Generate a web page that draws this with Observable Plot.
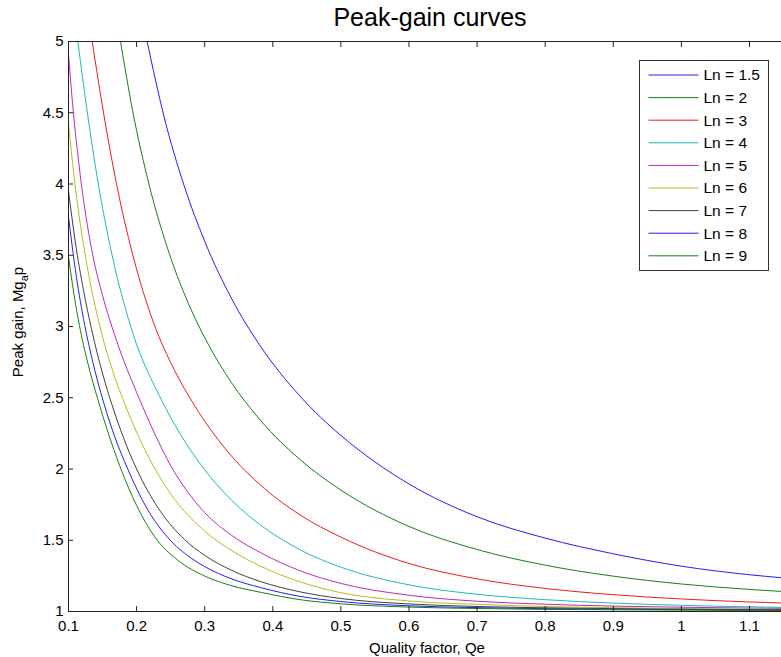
<!DOCTYPE html>
<html>
<head>
<meta charset="utf-8">
<script src="https://cdn.jsdelivr.net/npm/d3@7"></script>
<script src="https://cdn.jsdelivr.net/npm/@observablehq/plot@0.6"></script>
<style>
  html, body { margin: 0; padding: 0; background: #fff; }
  svg { display: block; }
</style>
</head>
<body>
<div id="chart"></div>
<script>
// ---- data ----
const titleText = "Peak-gain curves";
const xLabelText = "Quality factor, Qe";
const lnValues = [1.5, 2, 3, 4, 5, 6, 7, 8, 9];
const seriesColors = ["#2020f0", "#138013", "#f01c1c", "#1cbaba", "#ba2aba", "#baba1c", "#404040", "#2020f0", "#138013"];
const xTicks = [0.1, 0.2, 0.3, 0.4, 0.5, 0.6, 0.7, 0.8, 0.9, 1.0, 1.1];
const xTickLabels = ["0.1", "0.2", "0.3", "0.4", "0.5", "0.6", "0.7", "0.8", "0.9", "1", "1.1"];
const yTicks = [1, 1.5, 2, 2.5, 3, 3.5, 4, 4.5, 5];
const yTickLabels = ["1", "1.5", "2", "2.5", "3", "3.5", "4", "4.5", "5"];

const qLn1_5 = [0.2155, 0.24, 0.27, 0.30, 0.34, 0.38, 0.44, 0.5, 0.55, 0.6, 0.7, 0.8, 0.9, 1.0, 1.1, 1.147];
const gLn1_5 = [5.0, 4.478, 3.985, 3.598, 3.191, 2.875, 2.511, 2.235, 2.05, 1.895, 1.665, 1.515, 1.405, 1.318, 1.258, 1.237];

const qLn2 = [0.1764, 0.194, 0.219, 0.248, 0.28, 0.306, 0.339, 0.382, 0.44, 0.5, 0.6, 0.7, 0.8, 0.9, 1.0, 1.1, 1.147];
const gLn2 = [5.0, 4.518, 3.983, 3.512, 3.119, 2.868, 2.608, 2.341, 2.066, 1.852, 1.597, 1.435, 1.325, 1.248, 1.193, 1.155, 1.141];

const qLn3 = [0.1348, 0.152, 0.17, 0.194, 0.225, 0.255, 0.285, 0.3305, 0.388, 0.44, 0.5, 0.6, 0.7, 0.8, 0.9, 1.0, 1.1, 1.147];
const gLn3 = [5.0, 4.484, 4.012, 3.51, 3.025, 2.699, 2.446, 2.141, 1.862, 1.678, 1.522, 1.337, 1.229, 1.162, 1.118, 1.088, 1.067, 1.06];

const qLn4 = [0.1137, 0.128, 0.143, 0.163, 0.194, 0.236, 0.265, 0.295, 0.34, 0.388, 0.44, 0.5, 0.6, 0.7, 0.8, 0.9, 1.0, 1.1, 1.147];
const gLn4 = [5.0, 4.49, 4.022, 3.523, 2.96, 2.49, 2.238, 2.026, 1.778, 1.586, 1.433, 1.311, 1.187, 1.121, 1.083, 1.059, 1.043, 1.033, 1.029];

const qLn5 = [0.1, 0.106, 0.117, 0.134, 0.15, 0.17, 0.204, 0.225, 0.251, 0.28, 0.3, 0.34, 0.382, 0.44, 0.5, 0.6, 0.7, 0.8, 0.9, 1.0, 1.1, 1.147];
const gLn5 = [4.91, 4.563, 4.072, 3.54, 3.218, 2.909, 2.493, 2.264, 2.016, 1.807, 1.694, 1.533, 1.413, 1.286, 1.197, 1.114, 1.072, 1.051, 1.038, 1.03, 1.024, 1.022];

const qLn6 = [0.1, 0.11, 0.125, 0.148, 0.165, 0.182, 0.2, 0.224, 0.26, 0.3, 0.34, 0.382, 0.44, 0.5, 0.6, 0.7, 0.8, 0.9, 1.0, 1.1, 1.147];
const gLn6 = [4.42, 3.979, 3.49, 2.965, 2.687, 2.464, 2.259, 2.027, 1.762, 1.564, 1.426, 1.318, 1.208, 1.132, 1.074, 1.05, 1.035, 1.027, 1.021, 1.017, 1.016];

const qLn7 = [0.1, 0.11, 0.122, 0.134, 0.15, 0.165, 0.185, 0.204, 0.235, 0.27, 0.3, 0.34, 0.382, 0.44, 0.5, 0.6, 0.7, 0.8, 0.9, 1.0, 1.1, 1.147];
const gLn7 = [3.95, 3.593, 3.255, 2.978, 2.67, 2.434, 2.167, 1.96, 1.703, 1.507, 1.394, 1.288, 1.21, 1.138, 1.091, 1.053, 1.035, 1.026, 1.02, 1.016, 1.013, 1.012];

const qLn8 = [0.1, 0.11, 0.122, 0.135, 0.152, 0.168, 0.187, 0.215, 0.246, 0.28, 0.3, 0.34, 0.382, 0.44, 0.5, 0.6, 0.7, 0.8, 0.9, 1.0, 1.1, 1.147];
const gLn8 = [3.77, 3.401, 3.055, 2.765, 2.46, 2.225, 2.0, 1.725, 1.518, 1.375, 1.315, 1.228, 1.168, 1.106, 1.07, 1.04, 1.027, 1.02, 1.016, 1.013, 1.01, 1.01];

const qLn9 = [0.1, 0.108, 0.116, 0.128, 0.143, 0.158, 0.175, 0.2, 0.226, 0.26, 0.3, 0.34, 0.382, 0.44, 0.5, 0.6, 0.7, 0.8, 0.9, 1.0, 1.1, 1.147];
const gLn9 = [3.49, 3.227, 3.008, 2.75, 2.49, 2.258, 2.025, 1.744, 1.528, 1.362, 1.249, 1.18, 1.135, 1.083, 1.054, 1.031, 1.021, 1.015, 1.012, 1.01, 1.008, 1.007];

// ---- build table ----
const seriesQ = [qLn1_5, qLn2, qLn3, qLn4, qLn5, qLn6, qLn7, qLn8, qLn9];
const seriesG = [gLn1_5, gLn2, gLn3, gLn4, gLn5, gLn6, gLn7, gLn8, gLn9];
const lnLabels = lnValues.map(v => `Ln = ${v}`);
const rows = [];
seriesQ.forEach((qs, s) => qs.forEach((q, i) => rows.push({ln: lnLabels[s], q, g: seriesG[s][i]})));

const FONT = "'Liberation Sans', Arial, Helvetica, sans-serif";

const chart = Plot.plot({
  width: 781,
  height: 657,
  marginTop: 41,
  marginBottom: 46,
  marginLeft: 68,
  marginRight: 0,
  style: {fontFamily: FONT, fontSize: "15px", color: "#000", background: "#fff", overflow: "visible"},
  x: {domain: [0.1, 1.147]},
  y: {domain: [1, 5]},
  color: {domain: lnLabels, range: seriesColors},
  marks: [
    Plot.line(rows, {x: "q", y: "g", z: "ln", stroke: "ln", strokeWidth: 1, curve: "monotone-x"}),
    Plot.ruleY([1], {stroke: "#222"}),
    Plot.ruleY([5], {stroke: "#222"}),
    Plot.ruleX([0.1], {stroke: "#222"}),
    Plot.axisX(xTicks, {anchor: "bottom", tickSize: -5, tickPadding: 14, stroke: "#222",
      tickFormat: (d, i) => xTickLabels[i], label: null, fill: "#000"}),
    Plot.axisX(xTicks.slice(1), {anchor: "top", tickSize: -5, stroke: "#222", tickFormat: () => "", label: null}),
    Plot.axisY(yTicks, {anchor: "left", tickSize: -5, tickPadding: 10, stroke: "#222",
      tickFormat: (d, i) => yTickLabels[i], label: null, fill: "#000"}),
    Plot.text([titleText], {frameAnchor: "top", dy: -33, dx: 5, fontSize: 25, fill: "#000"}),
    Plot.text([xLabelText], {frameAnchor: "bottom", dy: 41, dx: 2, fontSize: 15, fill: "#000"})
  ]
});

document.getElementById("chart").appendChild(chart);

// ---- y-axis label with subscript ----
const svg = d3.select(chart);
const yl = svg.append("text")
  .attr("transform", "translate(19,322) rotate(-90)")
  .attr("text-anchor", "middle")
  .attr("dominant-baseline", "middle")
  .attr("font-family", FONT)
  .attr("font-size", 15)
  .attr("fill", "#000");
yl.append("tspan").text("Peak gain, Mg");
yl.append("tspan").attr("baseline-shift", "sub").attr("font-size", 11).text("a");
yl.append("tspan").text("p");

// ---- legend box ----
const lg = svg.append("g").attr("transform", "translate(639.5,60.5)");
lg.append("rect").attr("width", 129).attr("height", 210)
  .attr("fill", "#fff").attr("stroke", "#333").attr("stroke-width", 1);
lnLabels.forEach((lab, i) => {
  const y = 14.5 + i * 22.6;
  lg.append("line").attr("x1", 9).attr("x2", 59).attr("y1", y).attr("y2", y)
    .attr("stroke", seriesColors[i]).attr("stroke-width", 1);
  lg.append("text").attr("x", 64).attr("y", y).attr("dy", "0.35em")
    .attr("text-anchor", "start")
    .attr("font-family", FONT).attr("font-size", 15.5).attr("fill", "#000").text(lab);
});
</script>
</body>
</html>
